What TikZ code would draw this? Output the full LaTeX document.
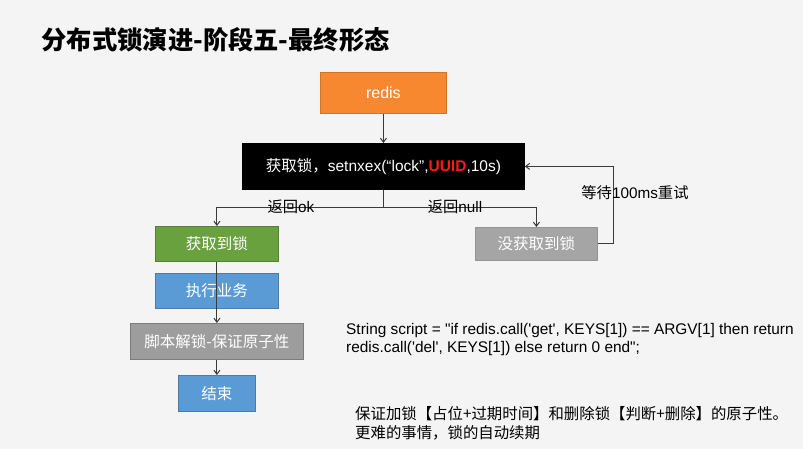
\documentclass[tikz,border=0pt]{standalone}
\usepackage{fontspec}
\setmainfont{Liberation Sans}
\newfontfamily\codefont{Liberation Sans}
\newfontfamily\cjk{Noto Sans CJK SC}
\usetikzlibrary{arrows.meta,positioning,calc}
\definecolor{bg}{HTML}{F4F4F4}
\definecolor{orangebox}{HTML}{F7882F}
\definecolor{greenbox}{HTML}{6AA13F}
\definecolor{greyboxc}{HTML}{A5A5A5}
\definecolor{bluebox}{HTML}{5B9BD5}
\definecolor{linec}{HTML}{3A3A3A}
\definecolor{uuidred}{HTML}{FF1A1A}
\tikzset{
  boxbase/.style={draw, line width=0.8pt, text=white, font=\fontsize{15.5}{17}\selectfont\cjk, inner sep=0pt, anchor=north west},
  conn/.style={draw=linec, line width=1pt, -{Straight Barb[length=4pt,width=6pt]}},
  plain/.style={draw=linec, line width=1pt},
  lbl/.style={font=\fontsize{15.3}{17}\selectfont\cjk, text=black, inner sep=1pt},
}
\begin{document}
\begin{tikzpicture}[x=1pt,y=-1pt]
\fill[bg] (0,0) rectangle (803,449);
\useasboundingbox (0,0) rectangle (803,449);
\node[anchor=west, font=\fontsize{25.3}{28}\selectfont\cjk\bfseries] (title) at (38,40) {分布式锁演进-阶段五-最终形态};
% boxes
\node[boxbase, fill=orangebox, draw=orangebox!85!black, minimum width=126pt, minimum height=41pt, font=\fontsize{16}{18}\selectfont] (redis) at (320,72) {redis};
\node[boxbase, fill=black, draw=black, minimum width=282pt, minimum height=46pt, font=\fontsize{15.5}{17}\selectfont] (lock) at (242,143) {{\cjk 获取锁，}setnxex(“lock”,{\color{uuidred}\bfseries UUID},10s)};
\node[boxbase, fill=greenbox, draw=greenbox!80!black, minimum width=123pt, minimum height=35pt] (got) at (155,226) {获取到锁};
\node[boxbase, fill=greyboxc, draw=greyboxc!90!black, minimum width=122pt, minimum height=33pt] (nogot) at (475,227) {没获取到锁};
\node[boxbase, fill=bluebox, draw=bluebox!80!black, minimum width=123pt, minimum height=35pt] (biz) at (155,273) {执行业务};
\node[boxbase, fill=greyboxc!95!black, draw=greyboxc!75!black, minimum width=173pt, minimum height=36pt] (unlock) at (130,323) {脚本解锁-保证原子性};
\node[boxbase, fill=bluebox, draw=bluebox!80!black, minimum width=77pt, minimum height=36pt] (end) at (178,375) {结束};
% connectors
\draw[conn] (redis) -- (lock);
\coordinate (split) at ($(lock.south)+(0,18)$);
\draw[plain] (lock.south) -- (split);
\draw[conn] (split) -| (got.north);
\draw[conn] (split) -| (nogot.north);
\draw[conn] (nogot.east) -- ++(16,0) |- (lock.east);
\draw[conn] (got.south) -- (unlock.north);
\draw[conn] (unlock) -- (end);
% labels
\node[lbl] (lok) at (291,207) {返回\codefont ok};
\node[lbl] (lnull) at (455,207) {返回\codefont null};
\node[lbl] (lwait) at (635,193) {等待\codefont 100ms{\cjk 重试}};
% texts
\node[anchor=north west, align=left, inner sep=0pt, font=\fontsize{15.4}{18.5}\selectfont\codefont] (code) at (346,323) {String script = "if redis.call('get', KEYS[1]) == ARGV[1] then return\\redis.call('del', KEYS[1]) else return 0 end";};
\node[anchor=north west, align=left, inner sep=0pt, font=\fontsize{15.4}{19.5}\selectfont\cjk] (note) at (355,406) {保证加锁【占位+过期时间】和删除锁【判断+删除】的原子性。\\更难的事情，锁的自动续期};
\end{tikzpicture}
\end{document}
